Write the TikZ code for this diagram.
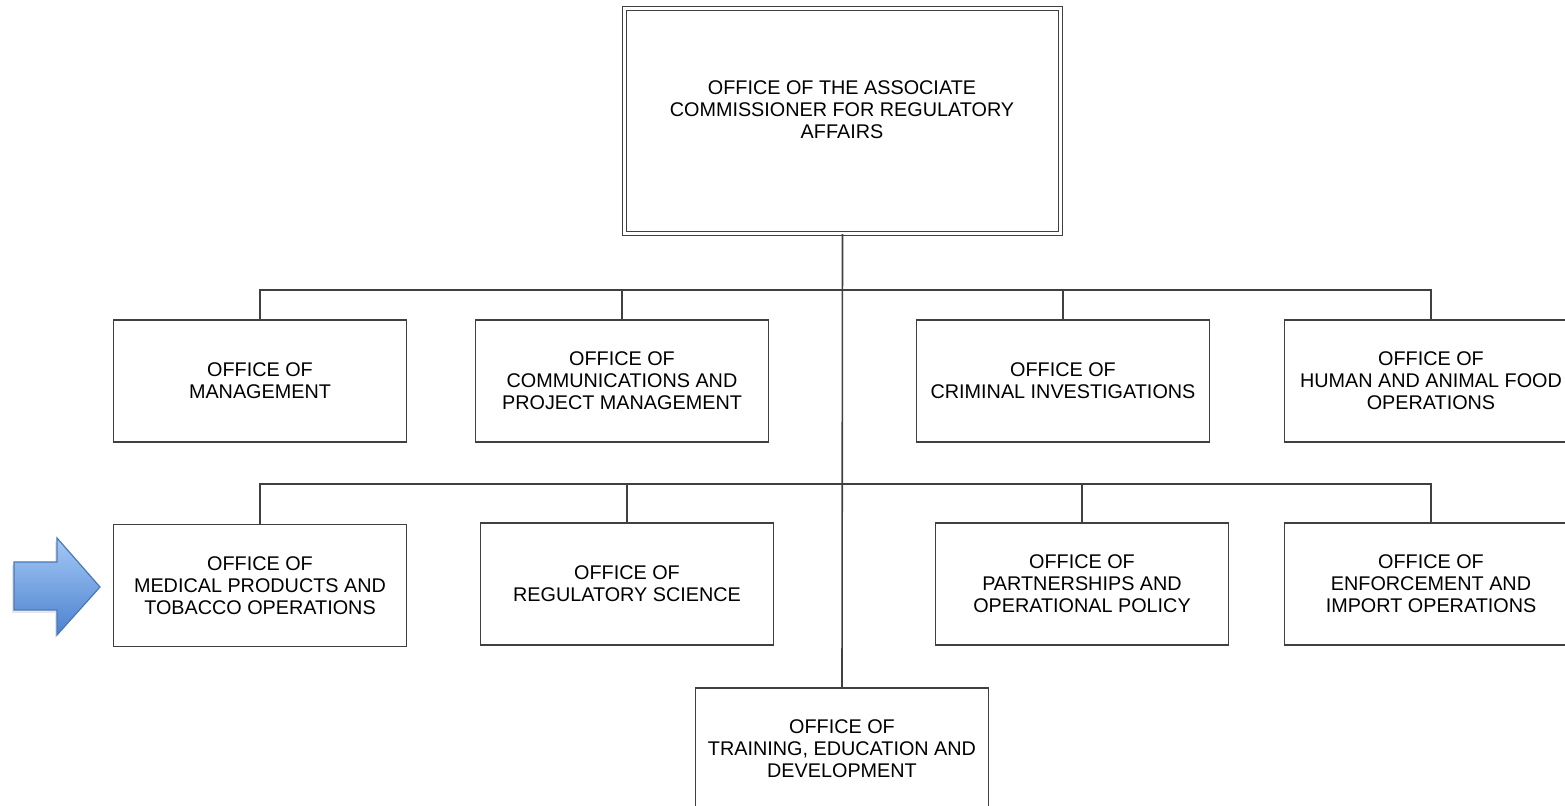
\documentclass[tikz,border=0pt]{standalone}
\usepackage{fontspec}
\setmainfont{Liberation Sans}
\usetikzlibrary{shadows}

\definecolor{linecol}{HTML}{404040}
\definecolor{arrowtop}{HTML}{A4C8F6}
\definecolor{arrowbot}{HTML}{4C82CF}
\definecolor{arrowline}{HTML}{4A78B8}

\tikzset{
  office/.style={draw=linecol, line width=0.8pt, fill=white,
    minimum width=146.5pt, minimum height=61pt, inner sep=0pt,
    align=center, font=\fontsize{9.9}{11}\selectfont},
  headoffice/.style={office, double, line width=0.6pt, double distance=1.6pt,
    minimum width=218pt, minimum height=112.5pt},
  label/.style={align=center, inner sep=0pt, font=\fontsize{9.9}{11}\selectfont},
  link/.style={draw=linecol, line width=0.8pt},
}

\begin{document}
\begin{tikzpicture}[x=0.5pt, y=-0.5pt]
\useasboundingbox (0,0) rectangle (1565,806);
\clip (0,0) rectangle (1565,806);

% vertice
\node[headoffice] (ora) at (842.5,121) {};
\node[label] (oratext) at (842,110) {OFFICE OF THE ASSOCIATE\\COMMISSIONER FOR REGULATORY\\AFFAIRS};

% prima fila
\node[office] (mgmt) at (260,381) {OFFICE OF\\MANAGEMENT};
\node[office] (comm) at (622,381) {OFFICE OF\\COMMUNICATIONS AND\\PROJECT MANAGEMENT};
\node[office] (crim) at (1063,381) {OFFICE OF\\CRIMINAL INVESTIGATIONS};
\node[office] (food) at (1431,381) {OFFICE OF\\HUMAN AND ANIMAL FOOD\\OPERATIONS};

% seconda fila
\node[office] (med) at (260,585.5) {OFFICE OF\\MEDICAL PRODUCTS AND\\TOBACCO OPERATIONS};
\node[office] (sci) at (627,584) {OFFICE OF\\REGULATORY SCIENCE};
\node[office] (pol) at (1082,584) {OFFICE OF\\PARTNERSHIPS AND\\OPERATIONAL POLICY};
\node[office] (enf) at (1431,584) {OFFICE OF\\ENFORCEMENT AND\\IMPORT OPERATIONS};

% in fondo
\node[office] (ted) at (842,749) {OFFICE OF\\TRAINING, EDUCATION AND\\DEVELOPMENT};

% collegamenti
\coordinate (busa) at (842,290);
\coordinate (busb) at (842,484);
\draw[link] (ora.south) -- (ted.north);
\draw[link] (mgmt.north) |- (busa) -| (food.north);
\draw[link] (comm.north) -- (comm.north |- busa);
\draw[link] (crim.north) -- (crim.north |- busa);
\draw[link] (med.north) |- (busb) -| (enf.north);
\draw[link] (sci.north) -- (sci.north |- busb);
\draw[link] (pol.north) -- (pol.north |- busb);

% freccia
\draw[arrowline, line width=0.6pt, top color=arrowtop, bottom color=arrowbot,
  drop shadow={shadow xshift=-1pt, shadow yshift=-1.5pt, opacity=0.2}]
  (14,562) -- (57,562) -- (57,538) -- (100,587) -- (57,635)
  -- (57,610) -- (14,610) -- cycle;
\end{tikzpicture}
\end{document}
